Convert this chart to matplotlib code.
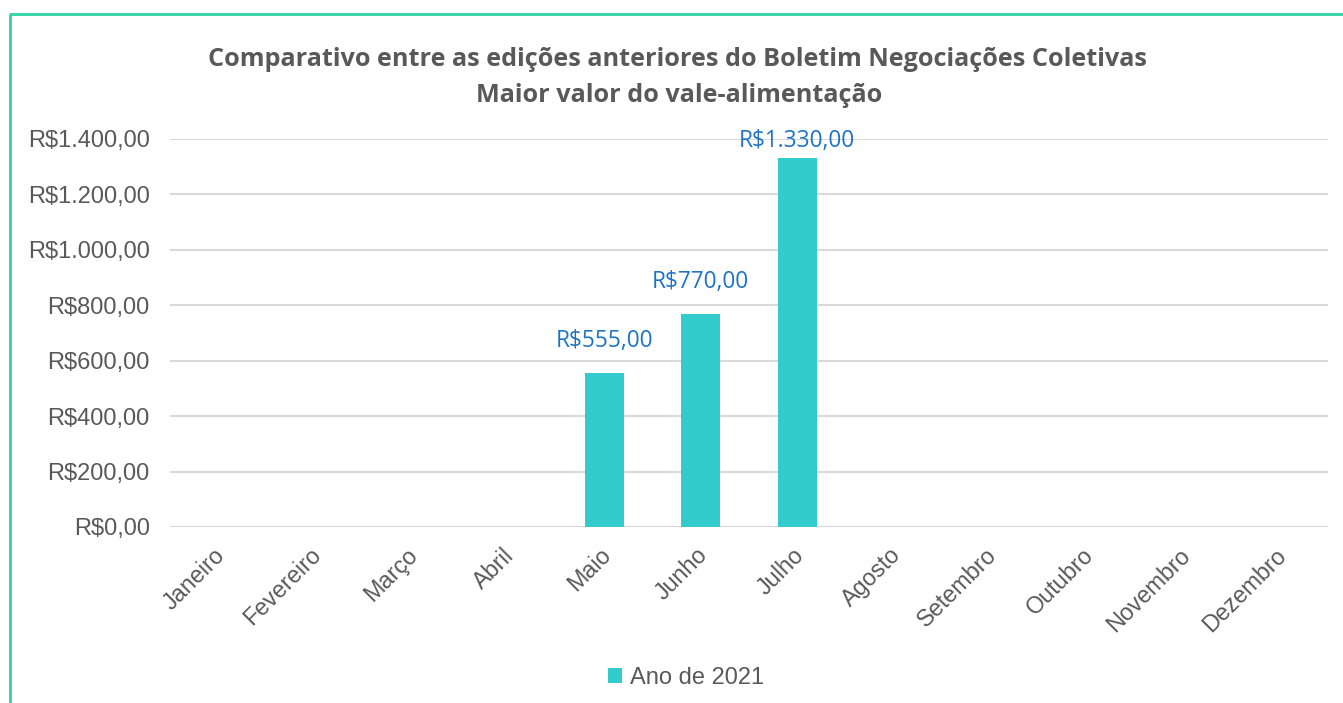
import numpy as np
import matplotlib
matplotlib.use("Agg")
import matplotlib.pyplot as plt
import matplotlib.transforms as mtransforms
from matplotlib.lines import Line2D

# Chart data
months = [
    "Janeiro", "Fevereiro", "Março", "Abril", "Maio", "Junho",
    "Julho", "Agosto", "Setembro", "Outubro", "Novembro", "Dezembro",
]
values_2021 = [None, None, None, None, 555, 770, 1330, None, None, None, None, None]
y_ticks = [0, 200, 400, 600, 800, 1000, 1200, 1400]
series_name = "Ano de 2021"
title_lines = [
    "Comparativo entre as edições anteriores do Boletim Negociações Coletivas",
    "Maior valor do vale-alimentação",
]


def brl(v):
    # Format like R$1.330,00
    s = f"{v:,.2f}"
    s = s.replace(",", "X").replace(".", ",").replace("X", ".")
    return "R$" + s


W, H = 1343, 703
fig = plt.figure(figsize=(W / 100, H / 100), dpi=100)
fig.patch.set_facecolor("white")

ax = fig.add_axes([170 / W, 1 - 527 / H, (1328 - 170) / W, (527 - 139) / H])

x = np.arange(len(months))
heights = np.array([np.nan if v is None else v for v in values_2021], dtype=float)
ax.bar(x, heights, width=0.4, color="#33CCCC", zorder=3, label=series_name)

# Data labels (kept inside the plot area near the top)
for xi, v in zip(x, heights):
    if np.isnan(v):
        continue
    ax.text(xi, min(v + 94, 1371), brl(v), ha="center", va="baseline",
            fontsize=16.3, family="Open Sans", color="#1F74C2", zorder=4)

ax.set_xlim(-0.5, len(months) - 0.5)
ax.set_ylim(0, 1400)
ax.set_yticks(y_ticks)
ax.set_yticklabels([brl(t) for t in y_ticks], family="Liberation Sans",
                   fontsize=17, color="#595959")
ax.set_xticks(x)
ax.set_xticklabels(months, rotation=45, ha="right", rotation_mode="anchor",
                   family="Liberation Sans", fontsize=16.8, color="#595959")
ax.tick_params(axis="y", length=0, pad=14.5)
ax.tick_params(axis="x", length=0, pad=12)
ax.grid(axis="y", color="#D9D9D9", linewidth=1.5, zorder=0)
for s in ax.spines.values():
    s.set_visible(False)

# nudge month labels a little to the left
shift = mtransforms.ScaledTranslation(-5 / 100, 0, fig.dpi_scale_trans)
for lbl in ax.get_xticklabels():
    lbl.set_transform(lbl.get_transform() + shift)

# Title
fig.text(678 / W, 1 - 60 / H, title_lines[0], ha="center", va="center",
         family="Open Sans", fontweight="bold", fontsize=18.2, color="#595959")
fig.text(679 / W, 1 - 96 / H, title_lines[1], ha="center", va="center",
         family="Open Sans", fontweight="bold", fontsize=18.2, color="#595959")

# Legend
fig.legend(loc="center", bbox_to_anchor=(686 / W, 1 - 678 / H), frameon=False,
           handlelength=0.6, handleheight=0.6, handletextpad=0.3,
           prop={"family": "Liberation Sans", "size": 17}, labelcolor="#595959")

# Green frame around the chart
fig.add_artist(Line2D([10 / W, 10 / W, 1.01], [-0.01, 1 - 14 / H, 1 - 14 / H],
                      transform=fig.transFigure, color="#2ED3A6", linewidth=2))

fig.savefig("out.png", dpi=100)
